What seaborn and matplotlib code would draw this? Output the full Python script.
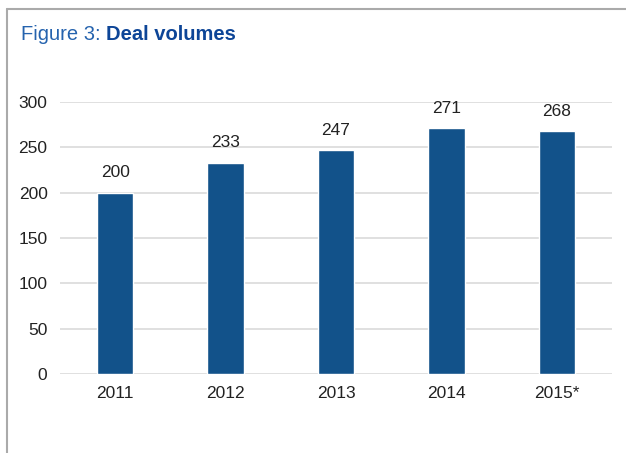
import matplotlib
matplotlib.use("Agg")
import matplotlib.pyplot as plt
import seaborn as sns
import pandas as pd
from matplotlib.lines import Line2D

years = ["2011", "2012", "2013", "2014", "2015*"]
deals = [200, 233, 247, 271, 268]

sns.set_style("white")
plt.rcParams["font.family"] = ["Liberation Sans", "DejaVu Sans"]

df = pd.DataFrame({"year": years, "deals": deals})

W, H = 626, 453
fig = plt.figure(figsize=(W / 100, H / 100), dpi=100)
ax = fig.add_axes([60 / W, 79 / H, 552 / W, 272 / H])

sns.barplot(data=df, x="year", y="deals", color="#12528a", width=0.33,
            saturation=1, ax=ax, zorder=3)

ax.set_ylim(0, 300)
ax.set_yticks(range(0, 301, 50))
ax.yaxis.grid(True, color="#dddddd", linewidth=1.3, zorder=0)
ax.set_xlabel("")
ax.set_ylabel("")
sns.despine(ax=ax, left=True, bottom=True)
ax.tick_params(axis="both", length=0, labelsize=12.5, colors="#222222")
ax.tick_params(axis="x", pad=9)
ax.tick_params(axis="y", pad=9)

for i, v in enumerate(deals):
    ax.annotate(str(v), (i, v), xytext=(0, 9), textcoords="offset points",
                ha="center", va="bottom", fontsize=12.5, color="#222222")

# frame lines
fig.add_artist(Line2D([7 / W, 1], [1 - 9 / H, 1 - 9 / H], color="#aaaaaa", lw=1.5))
fig.add_artist(Line2D([7 / W, 7 / W], [0, 1 - 9 / H], color="#aaaaaa", lw=1.5))

# title in two parts
t1 = fig.text(21 / W, 1 - 40 / H, "Figure 3: ", fontsize=14.5, color="#2563ae",
              ha="left", va="baseline")
fig.canvas.draw()
bb = t1.get_window_extent()
fig.text(bb.x1 / W, 1 - 40 / H, "Deal volumes", fontsize=14.5, color="#0d4597",
         fontweight="bold", ha="left", va="baseline")

fig.savefig("out.png", dpi=100)
